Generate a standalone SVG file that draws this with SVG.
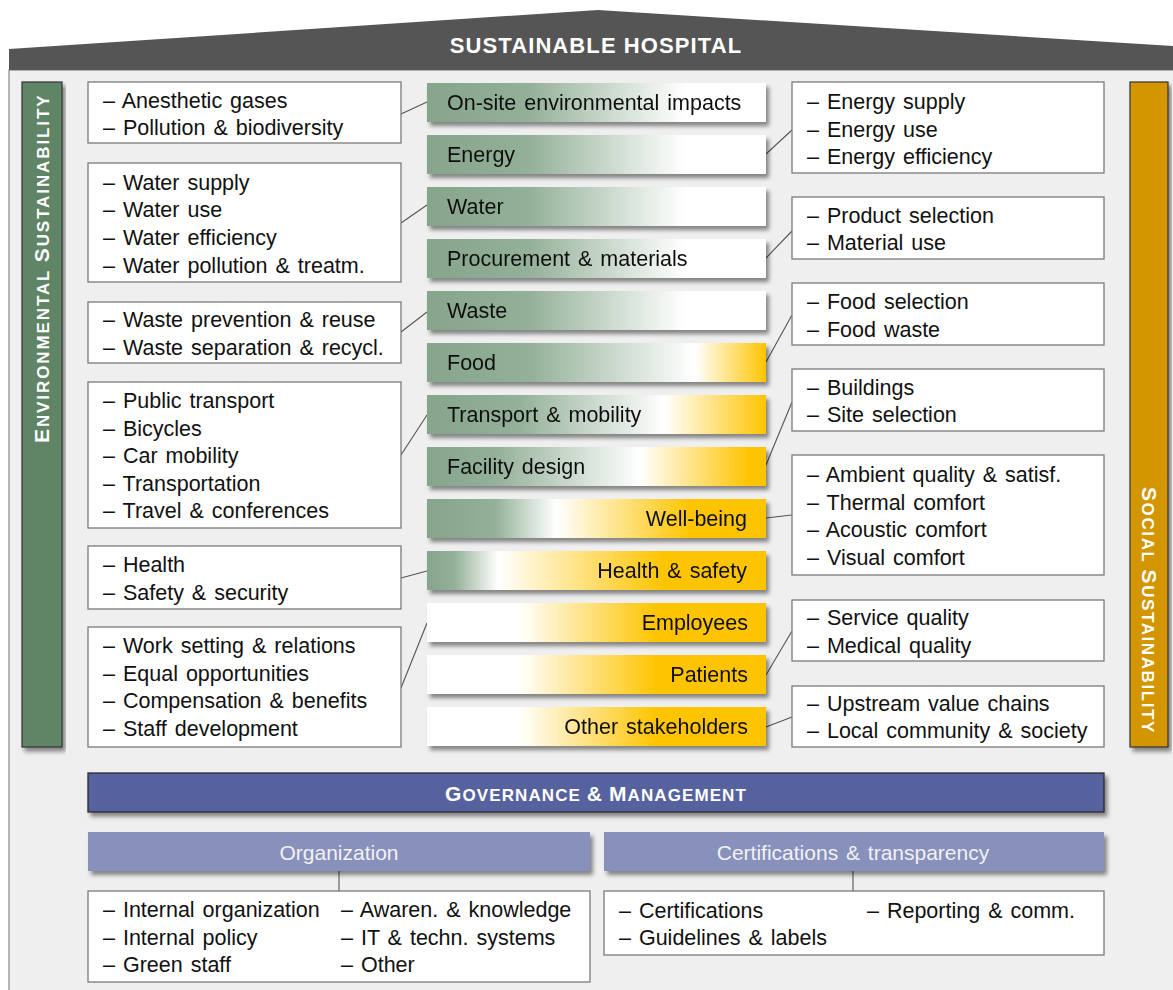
<svg xmlns="http://www.w3.org/2000/svg" width="1173" height="990" viewBox="0 0 1173 990">
<defs>
  <filter id="sh" x="-5%" y="-20%" width="115%" height="160%">
    <feDropShadow dx="3" dy="4" stdDeviation="2" flood-color="#000" flood-opacity="0.45"/>
  </filter>
  <!-- bar fills: green to white -->
  <linearGradient id="gGreen" x1="0" y1="0" x2="1" y2="0">
    <stop offset="0" stop-color="#86a58b"/>
    <stop offset="0.3" stop-color="#93b098"/>
    <stop offset="0.76" stop-color="#ffffff"/>
    <stop offset="1" stop-color="#ffffff"/>
  </linearGradient>
  <linearGradient id="gFood" x1="0" y1="0" x2="1" y2="0">
    <stop offset="0" stop-color="#86a58b"/>
    <stop offset="0.3" stop-color="#93b098"/>
    <stop offset="0.79" stop-color="#ffffff"/>
    <stop offset="1" stop-color="#ffc400"/>
  </linearGradient>
  <linearGradient id="gTrans" x1="0" y1="0" x2="1" y2="0">
    <stop offset="0" stop-color="#86a58b"/>
    <stop offset="0.27" stop-color="#93b098"/>
    <stop offset="0.7" stop-color="#ffffff"/>
    <stop offset="1" stop-color="#ffc400"/>
  </linearGradient>
  <linearGradient id="gFac" x1="0" y1="0" x2="1" y2="0">
    <stop offset="0" stop-color="#86a58b"/>
    <stop offset="0.2" stop-color="#93b098"/>
    <stop offset="0.63" stop-color="#ffffff"/>
    <stop offset="0.95" stop-color="#ffc400"/>
    <stop offset="1" stop-color="#ffc400"/>
  </linearGradient>
  <linearGradient id="gWell" x1="0" y1="0" x2="1" y2="0">
    <stop offset="0" stop-color="#86a58b"/>
    <stop offset="0.2" stop-color="#93b098"/>
    <stop offset="0.38" stop-color="#ffffff"/>
    <stop offset="0.78" stop-color="#ffc400"/>
    <stop offset="1" stop-color="#ffc400"/>
  </linearGradient>
  <linearGradient id="gHealth" x1="0" y1="0" x2="1" y2="0">
    <stop offset="0" stop-color="#86a58b"/>
    <stop offset="0.08" stop-color="#93b098"/>
    <stop offset="0.21" stop-color="#ffffff"/>
    <stop offset="0.7" stop-color="#ffc400"/>
    <stop offset="1" stop-color="#ffc400"/>
  </linearGradient>
  <linearGradient id="gSocial" x1="0" y1="0" x2="1" y2="0">
    <stop offset="0" stop-color="#ffffff"/>
    <stop offset="0.27" stop-color="#ffffff"/>
    <stop offset="0.68" stop-color="#ffc400"/>
    <stop offset="1" stop-color="#ffc400"/>
  </linearGradient>
  <style>
    text { font-family: "Liberation Sans", Arial, sans-serif; }
    .box { fill: #ffffff; stroke: #7a7a7a; stroke-width: 1.3; }
    .bar { filter: url(#sh); }
    .t { font-size: 21.5px; fill: #111; word-spacing: 2px; }
    .bt { font-size: 21.5px; fill: #111; word-spacing: 2px; }
    .r { text-anchor: end; }
    .hd { font-size: 21px; fill: #f2f2f2; text-anchor: middle; word-spacing: 2px; }
    .cap { font-weight: bold; fill: #ffffff; }
    .conn line { stroke: #555; stroke-width: 1.1; }
  </style>
</defs>

<!-- page background -->
<rect x="0" y="0" width="1173" height="990" fill="#ffffff"/>
<rect x="9" y="70" width="1170" height="930" fill="#efefef" stroke="#888" stroke-width="1.2"/>

<!-- roof -->
<g id="roof">
  <polygon points="9,49 598,10 1173,46 1173,70 9,70" fill="#555555"/>
  <text x="596" y="53" text-anchor="middle" font-size="22" letter-spacing="1.1" class="cap">SUSTAINABLE HOSPITAL</text>
</g>

<!-- side pillars -->
<g id="env-pillar">
  <rect x="22" y="82" width="40" height="665" fill="#5f8466" stroke="#333" stroke-width="1.2" filter="url(#sh)"/>
  <text transform="translate(49,443) rotate(-90)" class="cap" font-size="17" letter-spacing="1.9"><tspan font-size="21">E</tspan>NVIRONMENTAL <tspan font-size="21">S</tspan>USTAINABILITY</text>
</g>
<g id="soc-pillar">
  <rect x="1130" y="82" width="38" height="665" fill="#d39500" stroke="#333" stroke-width="1.2" filter="url(#sh)"/>
  <text transform="translate(1142,487) rotate(90)" class="cap" font-size="17" letter-spacing="1.6"><tspan font-size="21">S</tspan>OCIAL <tspan font-size="21">S</tspan>USTAINABILITY</text>
</g>

<!-- connectors -->
<g id="connectors" class="conn">
  <line x1="401" y1="114" x2="427" y2="102"/>
  <line x1="401" y1="223" x2="427" y2="205"/>
  <line x1="401" y1="332" x2="427" y2="312"/>
  <line x1="401" y1="455" x2="427" y2="415"/>
  <line x1="401" y1="578" x2="427" y2="571"/>
  <line x1="401" y1="688" x2="427" y2="623"/>
  <line x1="766" y1="154" x2="792" y2="130"/>
  <line x1="766" y1="258" x2="792" y2="231"/>
  <line x1="766" y1="362" x2="792" y2="315"/>
  <line x1="766" y1="465" x2="792" y2="402"/>
  <line x1="766" y1="518" x2="792" y2="515"/>
  <line x1="766" y1="675" x2="792" y2="631"/>
  <line x1="766" y1="727" x2="792" y2="717"/>
  <line x1="339" y1="871" x2="339" y2="891"/>
  <line x1="853" y1="871" x2="853" y2="891"/>
</g>

<!-- left detail boxes -->
<g id="box-onsite">
  <rect class="box" x="88" y="82" width="313" height="61"/>
  <text class="t" x="103" y="108">– Anesthetic gases</text>
  <text class="t" x="103" y="135">– Pollution &amp; biodiversity</text>
</g>
<g id="box-water">
  <rect class="box" x="88" y="163" width="313" height="119"/>
  <text class="t" x="103" y="190">– Water supply</text>
  <text class="t" x="103" y="217">– Water use</text>
  <text class="t" x="103" y="245">– Water efficiency</text>
  <text class="t" x="103" y="273">– Water pollution &amp; treatm.</text>
</g>
<g id="box-waste">
  <rect class="box" x="88" y="302" width="313" height="61"/>
  <text class="t" x="103" y="327">– Waste prevention &amp; reuse</text>
  <text class="t" x="103" y="355">– Waste separation &amp; recycl.</text>
</g>
<g id="box-transport">
  <rect class="box" x="88" y="382" width="313" height="146"/>
  <text class="t" x="103" y="408">– Public transport</text>
  <text class="t" x="103" y="436">– Bicycles</text>
  <text class="t" x="103" y="463">– Car mobility</text>
  <text class="t" x="103" y="491">– Transportation</text>
  <text class="t" x="103" y="518">– Travel &amp; conferences</text>
</g>
<g id="box-health">
  <rect class="box" x="88" y="546" width="313" height="63"/>
  <text class="t" x="103" y="572">– Health</text>
  <text class="t" x="103" y="600">– Safety &amp; security</text>
</g>
<g id="box-employees">
  <rect class="box" x="88" y="627" width="313" height="120"/>
  <text class="t" x="103" y="653">– Work setting &amp; relations</text>
  <text class="t" x="103" y="681">– Equal opportunities</text>
  <text class="t" x="103" y="708">– Compensation &amp; benefits</text>
  <text class="t" x="103" y="736">– Staff development</text>
</g>

<!-- central topic bars -->
<g id="bar-onsite" class="bar"><rect x="427" y="83" width="339" height="39" fill="url(#gGreen)"/><text class="bt" x="447" y="110">On-site environmental impacts</text></g>
<g id="bar-energy" class="bar"><rect x="427" y="135" width="339" height="39" fill="url(#gGreen)"/><text class="bt" x="447" y="162">Energy</text></g>
<g id="bar-water" class="bar"><rect x="427" y="187" width="339" height="39" fill="url(#gGreen)"/><text class="bt" x="447" y="214">Water</text></g>
<g id="bar-procurement" class="bar"><rect x="427" y="239" width="339" height="39" fill="url(#gGreen)"/><text class="bt" x="447" y="266">Procurement &amp; materials</text></g>
<g id="bar-waste" class="bar"><rect x="427" y="291" width="339" height="39" fill="url(#gGreen)"/><text class="bt" x="447" y="318">Waste</text></g>
<g id="bar-food" class="bar"><rect x="427" y="343" width="339" height="39" fill="url(#gFood)"/><text class="bt" x="447" y="370">Food</text></g>
<g id="bar-transport" class="bar"><rect x="427" y="395" width="339" height="39" fill="url(#gTrans)"/><text class="bt" x="447" y="422">Transport &amp; mobility</text></g>
<g id="bar-facility" class="bar"><rect x="427" y="447" width="339" height="39" fill="url(#gFac)"/><text class="bt" x="447" y="474">Facility design</text></g>
<g id="bar-wellbeing" class="bar"><rect x="427" y="499" width="339" height="39" fill="url(#gWell)"/><text class="bt r" x="747" y="526">Well-being</text></g>
<g id="bar-healthsafety" class="bar"><rect x="427" y="551" width="339" height="39" fill="url(#gHealth)"/><text class="bt r" x="747" y="578">Health &amp; safety</text></g>
<g id="bar-employees" class="bar"><rect x="427" y="603" width="339" height="39" fill="url(#gSocial)"/><text class="bt r" x="748" y="630">Employees</text></g>
<g id="bar-patients" class="bar"><rect x="427" y="655" width="339" height="39" fill="url(#gSocial)"/><text class="bt r" x="748" y="682">Patients</text></g>
<g id="bar-stakeholders" class="bar"><rect x="427" y="707" width="339" height="39" fill="url(#gSocial)"/><text class="bt r" x="748" y="734">Other stakeholders</text></g>

<!-- right detail boxes -->
<g id="box-energy">
  <rect class="box" x="792" y="82" width="312" height="91"/>
  <text class="t" x="807" y="109">– Energy supply</text>
  <text class="t" x="807" y="137">– Energy use</text>
  <text class="t" x="807" y="164">– Energy efficiency</text>
</g>
<g id="box-product">
  <rect class="box" x="792" y="197" width="312" height="62"/>
  <text class="t" x="807" y="223">– Product selection</text>
  <text class="t" x="807" y="250">– Material use</text>
</g>
<g id="box-food">
  <rect class="box" x="792" y="283" width="312" height="62"/>
  <text class="t" x="807" y="309">– Food selection</text>
  <text class="t" x="807" y="337">– Food waste</text>
</g>
<g id="box-buildings">
  <rect class="box" x="792" y="369" width="312" height="62"/>
  <text class="t" x="807" y="395">– Buildings</text>
  <text class="t" x="807" y="422">– Site selection</text>
</g>
<g id="box-ambient">
  <rect class="box" x="792" y="455" width="312" height="120"/>
  <text class="t" x="807" y="482">– Ambient quality &amp; satisf.</text>
  <text class="t" x="807" y="510">– Thermal comfort</text>
  <text class="t" x="807" y="537">– Acoustic comfort</text>
  <text class="t" x="807" y="565">– Visual comfort</text>
</g>
<g id="box-quality">
  <rect class="box" x="792" y="600" width="312" height="61"/>
  <text class="t" x="807" y="625">– Service quality</text>
  <text class="t" x="807" y="653">– Medical quality</text>
</g>
<g id="box-community">
  <rect class="box" x="792" y="686" width="312" height="61"/>
  <text class="t" x="807" y="711">– Upstream value chains</text>
  <text class="t" x="807" y="738">– Local community &amp; society</text>
</g>

<!-- governance -->
<g id="governance">
  <rect x="88" y="773" width="1016" height="39" fill="#56629e" stroke="#2a2a2a" stroke-width="1.3" filter="url(#sh)"/>
  <text x="596" y="801" text-anchor="middle" class="cap" font-size="17" letter-spacing="1.1"><tspan font-size="21">G</tspan>OVERNANCE <tspan font-size="21">&amp;</tspan> <tspan font-size="21">M</tspan>ANAGEMENT</text>
</g>
<g id="organization">
  <rect x="88" y="832" width="502" height="39" fill="#8890bc" filter="url(#sh)"/>
  <text class="hd" x="339" y="860">Organization</text>
</g>
<g id="certifications">
  <rect x="604" y="832" width="500" height="39" fill="#8890bc" filter="url(#sh)"/>
  <text class="hd" x="853" y="860">Certifications &amp; transparency</text>
</g>
<g id="box-organization">
  <rect class="box" x="88" y="891" width="502" height="91"/>
  <text class="t" x="103" y="917">– Internal organization</text>
  <text class="t" x="103" y="945">– Internal policy</text>
  <text class="t" x="103" y="972">– Green staff</text>
  <text class="t" x="341" y="917">– Awaren. &amp; knowledge</text>
  <text class="t" x="341" y="945">– IT &amp; techn. systems</text>
  <text class="t" x="341" y="972">– Other</text>
</g>
<g id="box-certifications">
  <rect class="box" x="604" y="891" width="500" height="64"/>
  <text class="t" x="619" y="918">– Certifications</text>
  <text class="t" x="619" y="945">– Guidelines &amp; labels</text>
  <text class="t" x="867" y="918">– Reporting &amp; comm.</text>
</g>
</svg>
